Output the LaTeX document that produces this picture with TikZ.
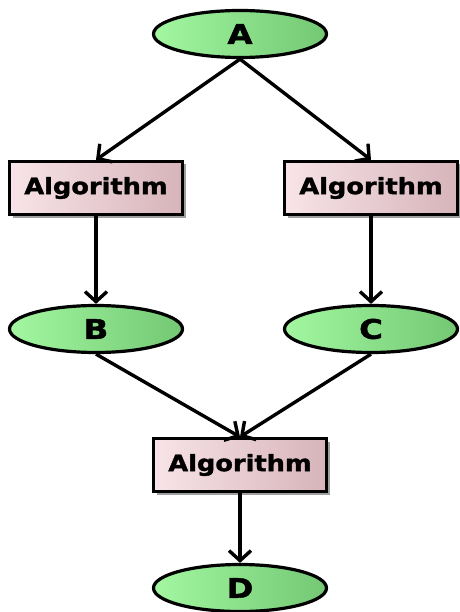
\documentclass[tikz,border=0pt]{standalone}
\usepackage{fontspec}
\newfontfamily\boxfont[FakeStretch=1.14,FakeBold=1.5]{DejaVu Sans Bold}
\newfontfamily\ellfont[FakeStretch=1.2,FakeBold=1.5]{DejaVu Sans Bold}
\usetikzlibrary{arrows.meta,shadows,shapes.geometric}
\definecolor{gl}{HTML}{A2F7A0}
\definecolor{gr}{HTML}{74C874}
\definecolor{pl}{HTML}{F8E4E8}
\definecolor{pr}{HTML}{D6B4BA}
\begin{document}
\begin{tikzpicture}[x=1pt,y=-1pt,
  dataset/.style={ellipse, draw=black, line width=3.2pt, left color=gl, right color=gr,
    minimum width=173pt, minimum height=47pt, inner sep=0pt,
    font=\ellfont\fontsize{27}{30}\selectfont},
  algobox/.style={rectangle, draw=black, line width=3.2pt, left color=pl, right color=pr,
    minimum width=173pt, minimum height=53pt, inner sep=0pt,
    font=\boxfont\fontsize{22.5}{26}\selectfont,
    general shadow={fill=gray!75, shadow xshift=3pt, shadow yshift=-3pt}},
  flow/.style={draw=black, line width=3.4pt, -{Straight Barb[length=10pt,width=22pt,line width=3.4pt]}}
]
\useasboundingbox (0,0) rectangle (459,612);
\node[dataset] (A) at (240,34) {A};
\node[algobox] (L) at (96,188) {Algorithm};
\node[algobox] (R) at (371,188) {Algorithm};
\node[dataset] (B) at (96,329) {B};
\node[dataset] (C) at (371,329) {C};
\node[algobox] (M) at (240,465) {Algorithm};
\node[dataset] (D) at (240,588) {D};
\draw[flow] (A.south) -- (L.north);
\draw[flow] (A.south) -- (R.north);
\draw[flow] (L.south) -- (B.north);
\draw[flow] (R.south) -- (C.north);
\draw[flow] (B.south) -- (M.north);
\draw[flow] (C.south) -- (M.north);
\draw[flow] (M.south) -- (D.north);
\end{tikzpicture}
\end{document}
